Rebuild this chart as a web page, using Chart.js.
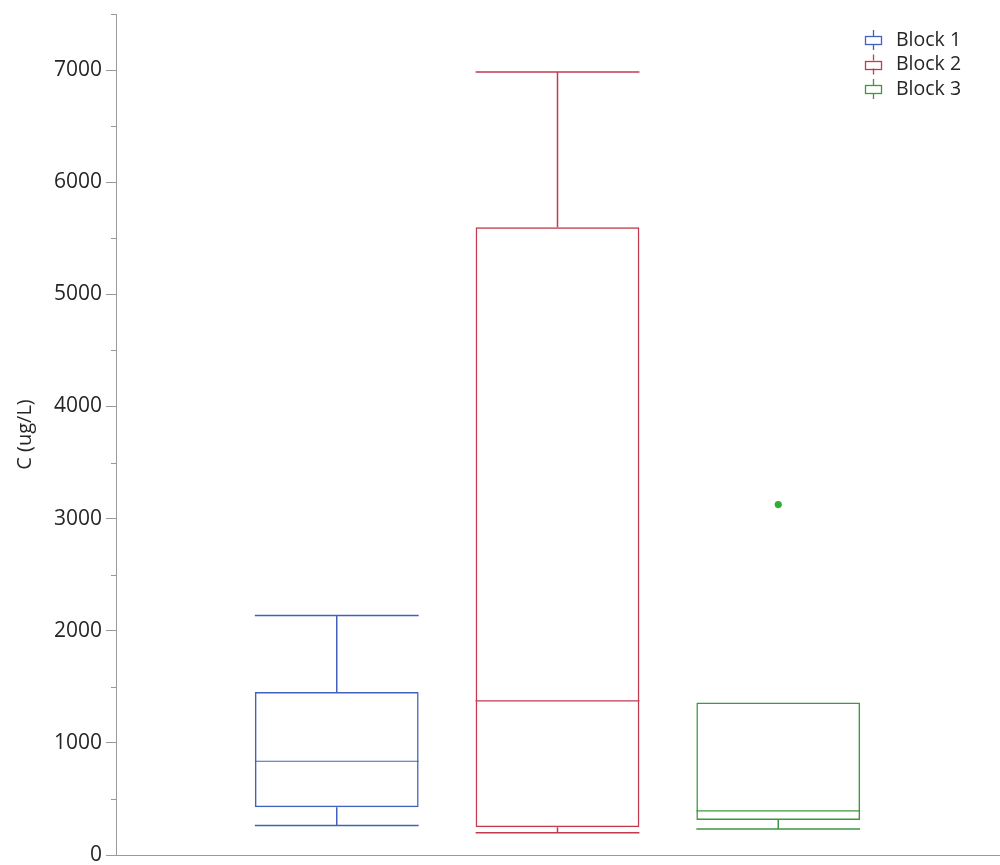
<!DOCTYPE html>
<html>
<head>
<meta charset="utf-8">
<script src="https://cdn.jsdelivr.net/npm/chart.js@4.4.1/dist/chart.umd.min.js"></script>
<style>
  html, body { margin: 0; padding: 0; background: #ffffff; }
  #wrap { width: 1000px; height: 865px; position: relative; }
</style>
</head>
<body>
<div id="wrap"><canvas id="chart"></canvas></div>
<script>
// Box-plot summary of C (ug/L) per block
const blocks = ['Block 1', 'Block 2', 'Block 3'];
const positions = [1, 2, 3];
const whiskerLow = [262, 199, 232];
const q1 = [426, 247, 312];
const median = [836, 1375, 393];
const q3 = [1453, 5598, 1360];
const whiskerHigh = [2135, 6982, 1360];
const outlierBlock = [3];
const outlierValue = [3125];
const blockColors = ['#4261be', '#c23a4e', '#3c983f'];
const outlierColor = '#2fae34';
const yMajorStep = 1000;
const yMinorStep = 500;
const yMax = 7500;

const FONT = "'Open Sans', 'Noto Sans', sans-serif";
const AXIS_GRAY = '#9a9a9a';
const TEXT = '#262626';

// Whiskers, caps and median lines sit on the floating bars that form the boxes.
const boxParts = {
  id: 'boxParts',
  afterDatasetsDraw(chart) {
    const meta = chart.getDatasetMeta(0);
    const y = chart.scales.y;
    const ctx = chart.ctx;
    ctx.save();
    meta.data.forEach((el, i) => {
      const half = el.width / 2;
      const x0 = el.x - half, x1 = el.x + half;
      ctx.strokeStyle = blockColors[i];
      ctx.lineWidth = 1.5;
      ctx.beginPath();
      // upper whisker + cap
      if (whiskerHigh[i] > q3[i]) {
        ctx.moveTo(el.x, y.getPixelForValue(q3[i]));
        ctx.lineTo(el.x, y.getPixelForValue(whiskerHigh[i]));
        ctx.moveTo(x0, y.getPixelForValue(whiskerHigh[i]));
        ctx.lineTo(x1, y.getPixelForValue(whiskerHigh[i]));
      }
      // lower whisker + cap
      if (whiskerLow[i] < q1[i]) {
        ctx.moveTo(el.x, y.getPixelForValue(q1[i]));
        ctx.lineTo(el.x, y.getPixelForValue(whiskerLow[i]));
        ctx.moveTo(x0, y.getPixelForValue(whiskerLow[i]));
        ctx.lineTo(x1, y.getPixelForValue(whiskerLow[i]));
      }
      ctx.stroke();
      // median
      ctx.lineWidth = 1.2;
      ctx.beginPath();
      ctx.moveTo(x0, y.getPixelForValue(median[i]));
      ctx.lineTo(x1, y.getPixelForValue(median[i]));
      ctx.stroke();
    });
    ctx.restore();
  }
};

// Short minor ticks on the y axis between the labelled ones.
const minorTicks = {
  id: 'minorTicks',
  afterDraw(chart) {
    const y = chart.scales.y;
    const ctx = chart.ctx;
    const left = chart.chartArea.left;
    ctx.save();
    ctx.strokeStyle = AXIS_GRAY;
    ctx.lineWidth = 1;
    ctx.beginPath();
    for (let v = yMinorStep; v <= yMax; v += yMajorStep) {
      const py = Math.round(y.getPixelForValue(v)) + 0.5;
      ctx.moveTo(left - 5, py);
      ctx.lineTo(left, py);
    }
    ctx.stroke();
    ctx.restore();
  }
};

// Legend in the upper right corner with a small box-and-whisker glyph per block.
const boxLegend = {
  id: 'boxLegend',
  afterDraw(chart) {
    const ctx = chart.ctx;
    const area = chart.chartArea;
    const iconX = area.right - 126;
    const textX = area.right - 103;
    ctx.save();
    ctx.font = '19.5px ' + FONT;
    ctx.textBaseline = 'middle';
    blocks.forEach((name, i) => {
      const cy = area.top + 26 + i * 24.5;
      ctx.strokeStyle = blockColors[i];
      ctx.lineWidth = 1.3;
      ctx.strokeRect(Math.round(iconX - 8) + 0.5, Math.round(cy - 4) + 0.5, 16, 8);
      ctx.beginPath();
      ctx.moveTo(Math.round(iconX) + 0.5, cy - 10);
      ctx.lineTo(Math.round(iconX) + 0.5, cy - 4);
      ctx.moveTo(Math.round(iconX) + 0.5, cy + 4);
      ctx.lineTo(Math.round(iconX) + 0.5, cy + 10);
      ctx.stroke();
      ctx.fillStyle = TEXT;
      ctx.fillText(name, textX, cy);
    });
    ctx.restore();
  }
};

const boxData = positions.map((p, i) => ({ x: p, y: [q1[i], q3[i]] }));
const outlierData = outlierBlock.map((b, i) => ({ x: b, y: outlierValue[i] }));

new Chart(document.getElementById('chart'), {
  data: {
    datasets: [
      {
        type: 'bar',
        label: 'boxes',
        data: boxData,
        backgroundColor: 'rgba(0,0,0,0)',
        borderColor: blockColors,
        borderWidth: 1.5,
        borderSkipped: false,
        categoryPercentage: 1,
        barPercentage: 0.742
      },
      {
        type: 'scatter',
        label: 'outliers',
        data: outlierData,
        backgroundColor: outlierColor,
        borderWidth: 0,
        pointRadius: 3.6
      }
    ]
  },
  options: {
    responsive: true,
    maintainAspectRatio: false,
    animation: false,
    layout: { autoPadding: false, padding: { left: 0, right: 1, top: 14, bottom: 10 } },
    plugins: { legend: { display: false }, tooltip: { enabled: false } },
    scales: {
      x: {
        type: 'linear',
        offset: false,
        min: 0,
        max: 4,
        ticks: { display: false, stepSize: 1 },
        grid: { display: false, drawTicks: false, offset: false },
        border: { display: true, color: AXIS_GRAY, width: 1 },
        afterFit(s) { s.height = 0; }
      },
      y: {
        type: 'linear',
        min: 0,
        max: yMax,
        ticks: {
          stepSize: yMinorStep,
          color: TEXT,
          font: { family: FONT, size: 21, lineHeight: 0.5 },
          padding: 4,
          callback: (v) => (v % yMajorStep === 0 ? String(v) : '')
        },
        grid: {
          drawOnChartArea: false,
          drawTicks: true,
          tickLength: 10,
          tickColor: (c) => (c.tick && c.tick.value % yMajorStep === 0 ? AXIS_GRAY : 'rgba(0,0,0,0)')
        },
        border: { display: true, color: AXIS_GRAY, width: 1 },
        title: {
          display: true,
          text: 'C (ug/L)',
          color: TEXT,
          font: { family: FONT, size: 20 },
          padding: { top: 13, bottom: 0 }
        },
        afterFit(s) { s.width = 116; }
      }
    }
  },
  plugins: [boxParts, minorTicks, boxLegend]
});
</script>
</body>
</html>
